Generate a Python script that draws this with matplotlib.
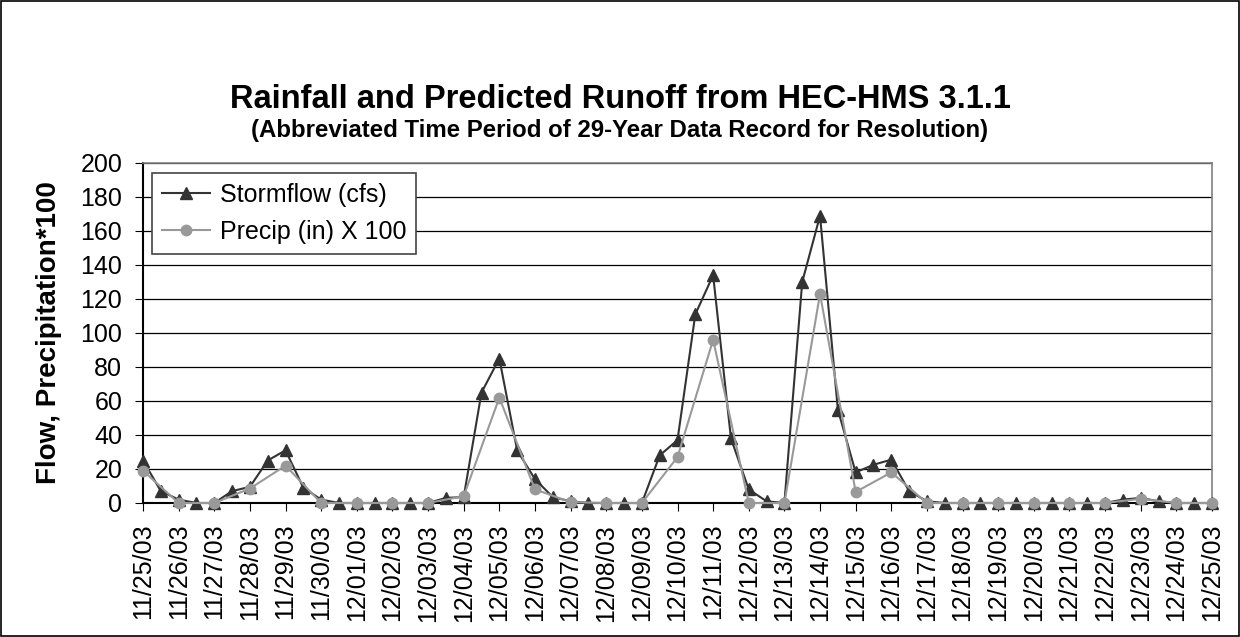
import numpy as np
import pandas as pd
import matplotlib
matplotlib.use("Agg")
import matplotlib.pyplot as plt
import matplotlib.dates as mdates
from matplotlib.patches import Rectangle

plt.rcParams['font.family'] = ['Liberation Sans', 'DejaVu Sans']

# Stormflow every half day, 11/25/03 00:00 to 12/25/03 00:00
storm_times = pd.date_range("2003-11-25", "2003-12-25", freq="12h")
stormflow = [25, 7, 2, 0, 0, 7, 9.5, 25, 31, 9,          # 11/25 - 11/29.5
             2, 0, 0, 0, 0, 0, 0, 3, 3.5, 65,            # 11/30 - 12/04.5
             85, 31, 14, 3.5, 1, 0, 0, 0, 0, 28,         # 12/05 - 12/09.5
             37, 111, 134, 38, 8, 1, 0, 130, 169, 55,    # 12/10 - 12/14.5
             18, 22.5, 25.5, 7, 1, 0, 0, 0, 0, 0,        # 12/15 - 12/19.5
             0, 0, 0, 0, 0, 2, 3, 1, 0, 0,               # 12/20 - 12/24.5
             0]                                          # 12/25

# Precip (in) x 100, daily
precip_days = pd.date_range("2003-11-25", "2003-12-25", freq="D")
precip = [19, 0, 0, 8.5, 22, 0, 0, 0, 0, 4,
          62, 8, 0.5, 0, 0, 27, 96, 0, 0, 123,
          6.5, 18, 0, 0, 0, 0, 0, 0, 2.5, 0, 0]

fig = plt.figure(figsize=(12.4, 6.37), dpi=100)
ax = fig.add_axes([143 / 1240, 1 - 503 / 637, (1212 - 143) / 1240, (503 - 163) / 637])

ax.plot(storm_times, stormflow, color="#333333", lw=1.5, marker="^", ms=8.5,
        label="Stormflow (cfs)", clip_on=False, zorder=3)
ax.plot(precip_days, precip, color="#999999", lw=1.5, marker="o", ms=7.5,
        label="Precip (in) X 100", clip_on=False, zorder=4)

ax.set_ylim(0, 200)
ax.set_yticks(range(0, 201, 20))
ax.set_xlim(precip_days[0], precip_days[-1])
ax.xaxis.set_major_locator(mdates.DayLocator())
ax.xaxis.set_major_formatter(mdates.DateFormatter("%m/%d/%y"))
ax.tick_params(axis="x", labelrotation=90, labelsize=18, length=6, pad=9, direction="out")
ax.tick_params(axis="y", labelsize=18, length=6, pad=9, direction="out")
ax.yaxis.grid(True, color="black", lw=0.9)
ax.set_axisbelow(True)

for s in ["top", "right"]:
    ax.spines[s].set_color("#808080")
    ax.spines[s].set_linewidth(1.2)
for s in ["left", "bottom"]:
    ax.spines[s].set_color("black")
    ax.spines[s].set_linewidth(1.5)

ax.set_ylabel("Flow, Precipitation*100", fontsize=20, fontweight="bold")
ax.yaxis.set_label_coords((62 - 143) / 1069, 0.5)

leg = ax.legend(loc="upper left", bbox_to_anchor=(152 / 1240, 1 - 173 / 637),
                bbox_transform=fig.transFigure, borderaxespad=0, fontsize=18,
                fancybox=False, edgecolor="#444444", framealpha=1,
                handlelength=1.9, labelspacing=0.5, borderpad=0.4, handletextpad=0.4)
leg.get_frame().set_linewidth(1.2)

fig.text(0.5, 1 - 100 / 637, "Rainfall and Predicted Runoff from HEC-HMS 3.1.1",
         ha="center", va="center", fontsize=23.5, fontweight="bold")
fig.text(0.5, 1 - 131 / 637, "(Abbreviated Time Period of 29-Year Data Record for Resolution)",
         ha="center", va="center", fontsize=17.3, fontweight="bold")

fig.patches.append(Rectangle((0.0008, 0.0015), 0.9984, 0.997, transform=fig.transFigure,
                             fill=False, edgecolor="black", lw=1.2))

fig.savefig("out.png", dpi=100)
